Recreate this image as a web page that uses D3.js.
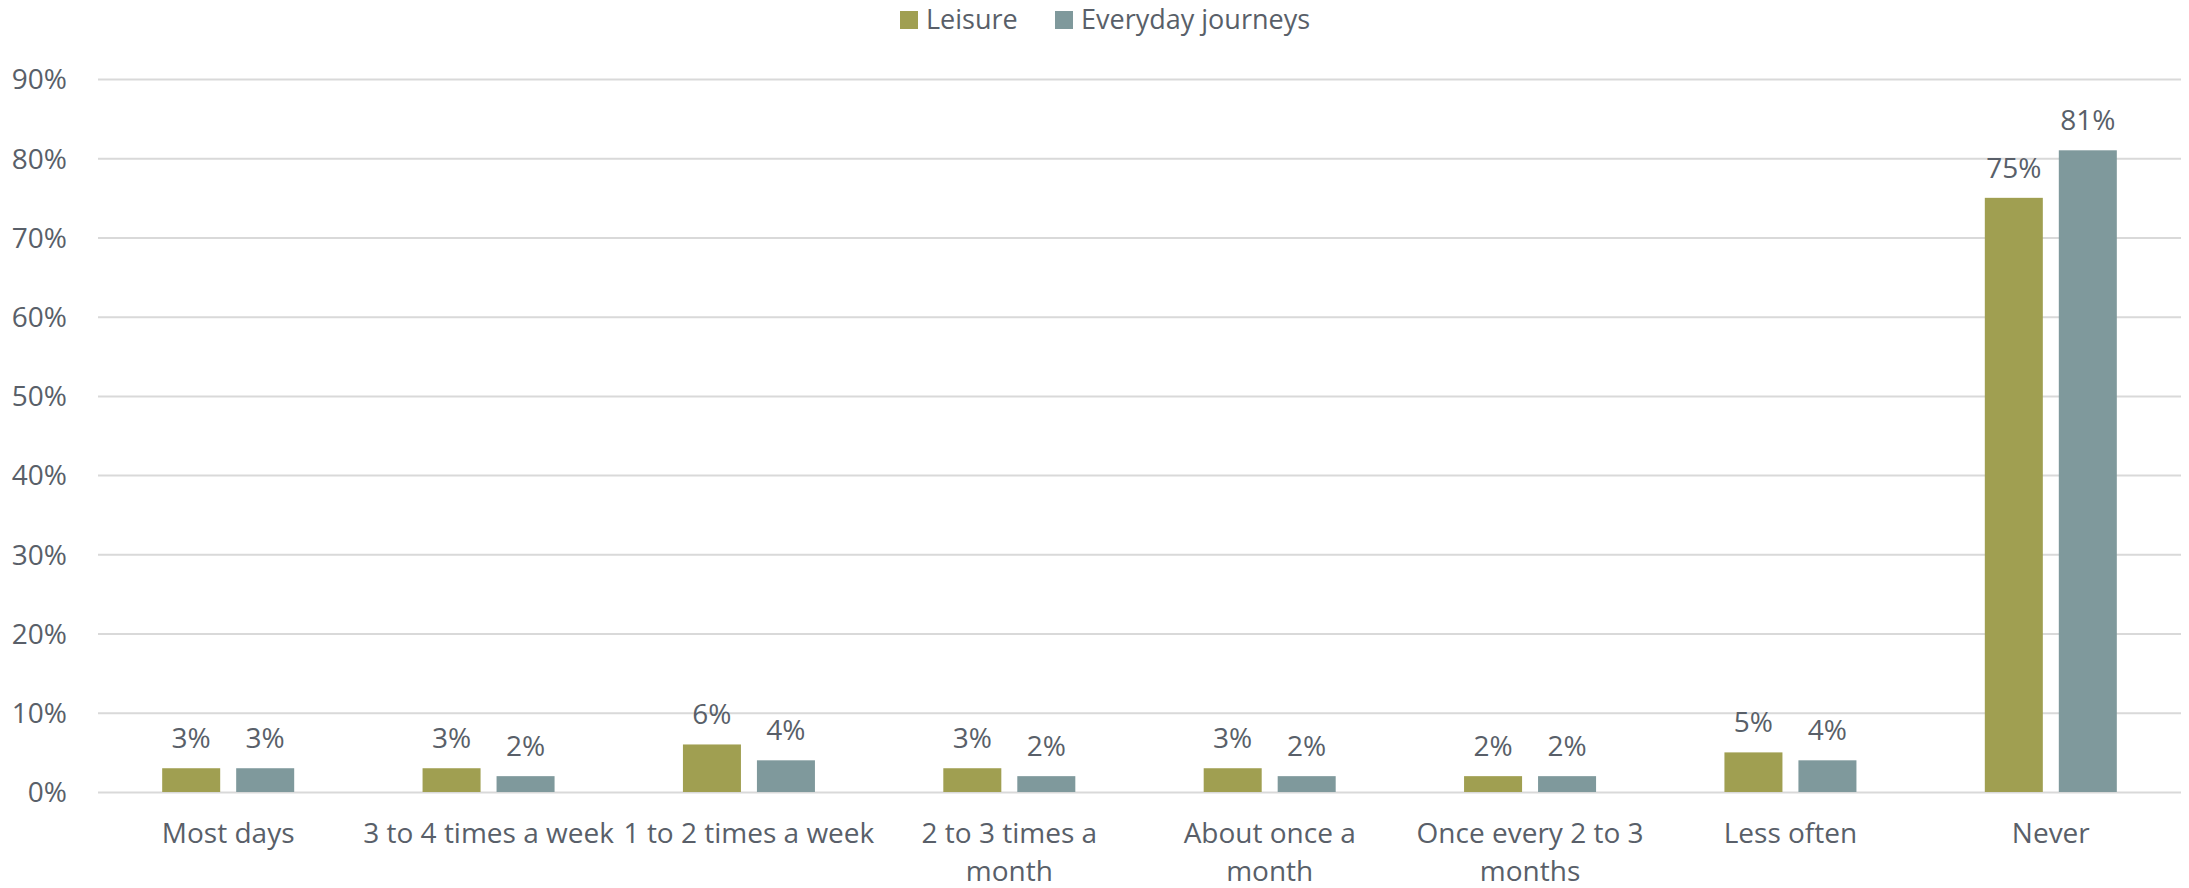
<!doctype html>
<html lang="en">
<head>
  <meta charset="utf-8">
  <title>Leisure vs everyday journeys</title>
  <style>
    html, body { margin: 0; padding: 0; background: #fff; }
    svg { display: block; }
    text { font-family: "Open Sans", "Noto Sans", sans-serif; fill: #595f69; }
  </style>
</head>
<body>
  <svg></svg>
  <script src="https://cdn.jsdelivr.net/npm/d3@7"></script>
  <script>
    const width = 2189;
    const height = 888;
    const margin = { top: 79, right: 8, bottom: 96, left: 98 };

    // data
    const categories = [
      'Most days',
      '3 to 4 times a week',
      '1 to 2 times a week',
      '2 to 3 times a\nmonth',
      'About once a\nmonth',
      'Once every 2 to 3\nmonths',
      'Less often',
      'Never'
    ];
    const seriesNames = ['Leisure', 'Everyday journeys'];
    const leisure = [3, 3, 6, 3, 3, 2, 5, 75];
    const everyday = [3, 2, 4, 2, 2, 2, 4, 81];
    const yTicks = [0, 10, 20, 30, 40, 50, 60, 70, 80, 90];
    const colors = ['#a09f51', '#7f999c'];

    const values = [leisure, everyday];

    const svg = d3.select('svg')
      .attr('width', width)
      .attr('height', height)
      .attr('viewBox', [0, 0, width, height]);

    const x0 = d3.scaleBand()
      .domain(categories)
      .range([margin.left, width - margin.right])
      .paddingInner(0.493)
      .paddingOuter(0.2465);

    const x1 = d3.scaleBand()
      .domain(seriesNames)
      .range([0, x0.bandwidth()])
      .paddingInner(0.216);

    const y = d3.scaleLinear()
      .domain([0, 90])
      .range([height - margin.bottom, margin.top]);

    // 网格线 + 纵坐标
    const yAxis = d3.axisLeft(y)
      .tickValues(yTicks)
      .tickFormat(v => v + '%')
      .tickSize(0)
      .tickPadding(31);

    svg.append('g')
      .attr('transform', 'translate(' + margin.left + ',0)')
      .call(yAxis)
      .call(g => g.select('.domain').remove())
      .call(g => g.selectAll('.tick text')
        .attr('font-size', 28)
        .attr('fill', '#595f69')
        .attr('font-family', '"Open Sans", sans-serif')
        .attr('dy', '0.35em'))
      .call(g => g.selectAll('.tick line').clone()
        .attr('x2', width - margin.left - margin.right)
        .attr('stroke', '#d9d9d9')
        .attr('stroke-width', 2));

    // 柱子
    const groups = svg.append('g')
      .selectAll('g')
      .data(seriesNames)
      .join('g')
      .attr('fill', (d, i) => colors[i]);

    groups.selectAll('rect')
      .data((s, si) => categories.map((c, ci) => ({ c, s, v: values[si][ci] })))
      .join('rect')
      .attr('x', d => x0(d.c) + x1(d.s))
      .attr('y', d => y(d.v))
      .attr('width', x1.bandwidth())
      .attr('height', d => y(0) - y(d.v));

    // 数值标签
    groups.selectAll('text')
      .data((s, si) => categories.map((c, ci) => ({ c, s, v: values[si][ci] })))
      .join('text')
      .attr('x', d => x0(d.c) + x1(d.s) + x1.bandwidth() / 2)
      .attr('y', d => y(d.v) - 20)
      .attr('text-anchor', 'middle')
      .attr('font-size', 28)
      .attr('fill', '#595f69')
      .text(d => d.v + '%');

    // 横坐标标签
    const xLabels = svg.append('g')
      .selectAll('text')
      .data(categories)
      .join('text')
      .attr('x', d => x0(d) + x0.bandwidth() / 2)
      .attr('y', 843)
      .attr('text-anchor', 'middle')
      .attr('font-size', 28);

    xLabels.selectAll('tspan')
      .data(d => d.split('\n'))
      .join('tspan')
      .attr('x', function () { return this.parentNode.getAttribute('x'); })
      .attr('dy', (d, i) => i === 0 ? 0 : 38)
      .text(d => d);

    // 图例
    const legendX = [900, 1055];
    const legend = svg.append('g')
      .selectAll('g')
      .data(seriesNames)
      .join('g')
      .attr('transform', (d, i) => 'translate(' + legendX[i] + ',11)');

    legend.append('rect')
      .attr('width', 18)
      .attr('height', 18)
      .attr('fill', (d, i) => colors[i]);

    legend.append('text')
      .attr('x', 26)
      .attr('y', 18)
      .attr('font-size', 27)
      .text(d => d);
  </script>
</body>
</html>
